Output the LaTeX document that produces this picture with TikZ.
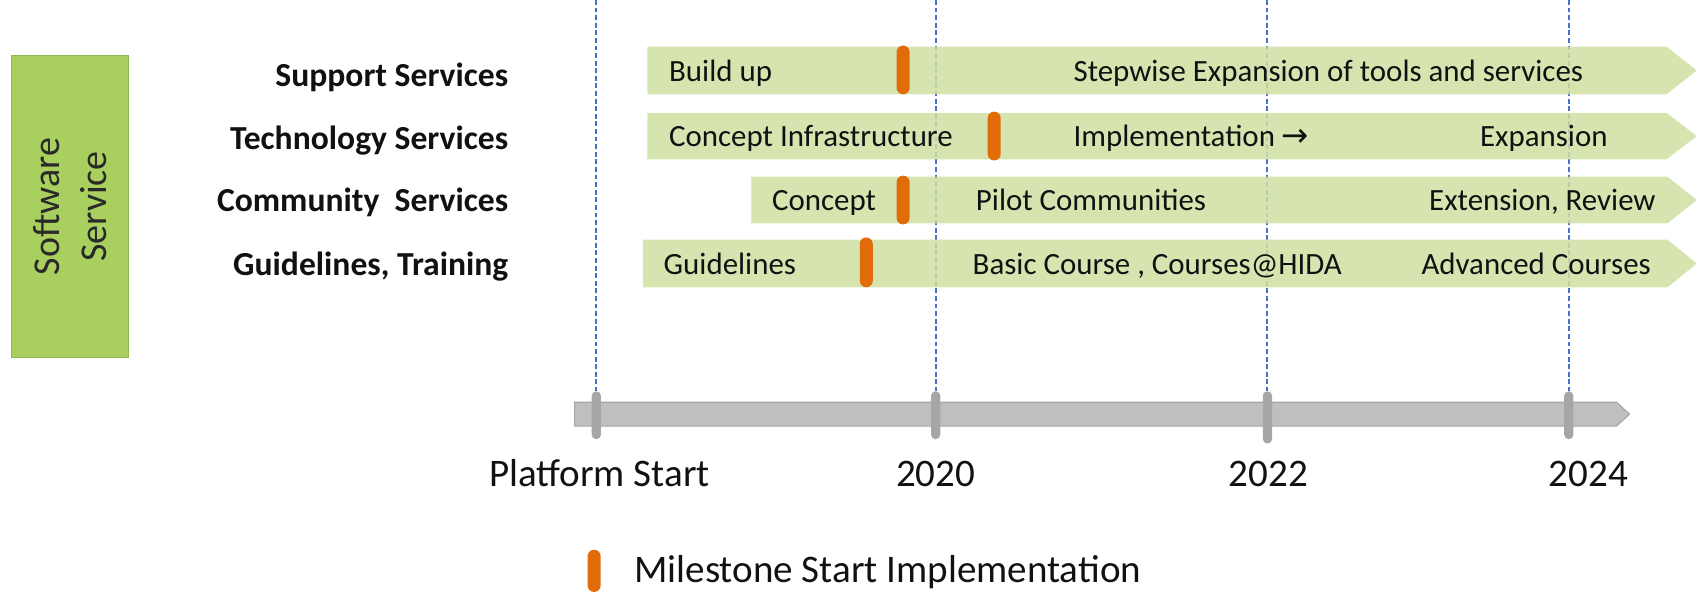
\documentclass[tikz,border=0pt]{standalone}
\usepackage{fontspec}
\setmainfont{Carlito}
\newfontfamily\arrowfont{DejaVu Sans}
\definecolor{barg}{HTML}{CFDFA2}
\definecolor{boxg}{HTML}{A9CF5F}
\definecolor{boxgd}{HTML}{94B850}
\definecolor{msorange}{HTML}{E36C0A}
\definecolor{tickgray}{HTML}{A6A6A6}
\definecolor{tlgray}{HTML}{BFBFBF}
\definecolor{lineblue}{HTML}{4472C4}
\definecolor{txt}{HTML}{111111}
\begin{document}
\begin{tikzpicture}[x=1pt,y=-1pt,
  bar/.style={fill=barg, draw=none, fill opacity=0.85},
  ms/.style={rectangle, rounded corners=6pt, fill=msorange, minimum width=12pt, inner sep=0pt},
  tickmark/.style={rectangle, rounded corners=4pt, fill=tickgray, minimum width=8.5pt, minimum height=44pt, inner sep=0pt},
  vline/.style={draw=lineblue, line width=1.8pt, dash pattern=on 4.5pt off 2.5pt},
  bartext/.style={font=\fontsize{28.5}{34}\selectfont, text=txt, inner sep=0pt, anchor=base west},
  rowlab/.style={font=\bfseries\fontsize{31}{37}\selectfont, text=txt, anchor=base east, inner sep=0pt},
  axlab/.style={font=\fontsize{36}{43}\selectfont, text=txt, anchor=base, inner sep=0pt}]
\useasboundingbox (0,0) rectangle (1568,549);

% left category box
\node[draw=boxgd, fill=boxg, line width=0.8pt, minimum width=107pt, minimum height=279pt, inner sep=0pt] (cat) at (64.5,190.5) {};
\node[rotate=90, align=center, font=\fontsize{35}{43}\selectfont, text=txt!90] (catlab) at (cat.center) {Software\\Service};

% ticks on timeline (positions)
\coordinate (t0) at (550,0);
\coordinate (t1) at (863,0);
\coordinate (t2) at (1169,0);
\coordinate (t3) at (1447,0);

% timeline arrow
\draw[draw=tickgray, fill=tlgray, line width=1pt] (530,371) -- (1491,371) -- (1503,382) -- (1491,393) -- (530,393) -- cycle;
\node[tickmark] (k0) at (550,383) {};
\node[tickmark] (k1) at (863,383) {};
\node[tickmark, minimum height=48pt] (k2) at (1169,385) {};
\node[tickmark] (k3) at (1447,383) {};

% dashed year lines
\draw[vline] (t0) -- (k0.north);
\draw[vline] (t1) -- (k1.north);
\draw[vline] (t2) -- (k2.north);
\draw[vline] (t3) -- (k3.north);

% bars
\fill[bar] (597,43) -- (1537,43) -- (1565,65) -- (1537,87) -- (597,87) -- cycle;
\fill[bar] (597,104) -- (1537,104) -- (1565,125.5) -- (1537,147) -- (597,147) -- cycle;
\fill[bar] (693,163) -- (1538,163) -- (1565,184.5) -- (1538,206) -- (693,206) -- cycle;
\fill[bar] (593,221) -- (1538,221) -- (1565,243) -- (1538,265) -- (593,265) -- cycle;

% milestones
\node[ms, minimum height=45pt] (m1) at (833,64.5) {};
\node[ms, minimum height=45pt] (m2) at (917,125.5) {};
\node[ms, minimum height=45pt] (m3) at (833,184.5) {};
\node[ms, minimum height=46pt] (m4) at (799,242) {};

% row labels
\node[rowlab] (r1) at (469,79.5) {Support Services};
\node[rowlab] (r2) at (469,137.5) {Technology Services};
\node[rowlab] (r3) at (469,195.5) {Community~~Services};
\node[rowlab] (r4) at (469,254.5) {Guidelines, Training};

% bar texts
\node[bartext] (a1) at (617,75) {Build up};
\node[bartext] (b1) at (990,75) {Stepwise Expansion of tools and services};
\node[bartext] (a2) at (617,135.5) {Concept Infrastructure};
\node[bartext] (b2) at (990,135.5) {Implementation {\arrowfont\fontsize{30}{34}\selectfont →}};
\node[bartext] (c2) at (1365,135.5) {Expansion};
\node[bartext] (a3) at (712,194.5) {Concept};
\node[bartext] (b3) at (900,194.5) {Pilot Communities};
\node[bartext] (c3) at (1318,194.5) {Extension, Review};
\node[bartext] (a4) at (612,253) {Guidelines};
\node[bartext] (b4) at (897,253) {Basic Course , Courses@HIDA};
\node[bartext] (c4) at (1311,253) {Advanced Courses};

% axis labels
\node[axlab] (y0) at (553,449) {Platform Start};
\node[axlab] (y1) at (863,449) {2020};
\node[axlab] (y2) at (1170,449) {2022};
\node[axlab] (y3) at (1465,449) {2024};

% legend
\node[ms, minimum height=39pt] (lm) at (548,526.5) {};
\node[font=\fontsize{36}{43}\selectfont, text=txt, anchor=base west, inner sep=0pt] (lt) at (585,537) {Milestone Start Implementation};
\end{tikzpicture}
\end{document}
